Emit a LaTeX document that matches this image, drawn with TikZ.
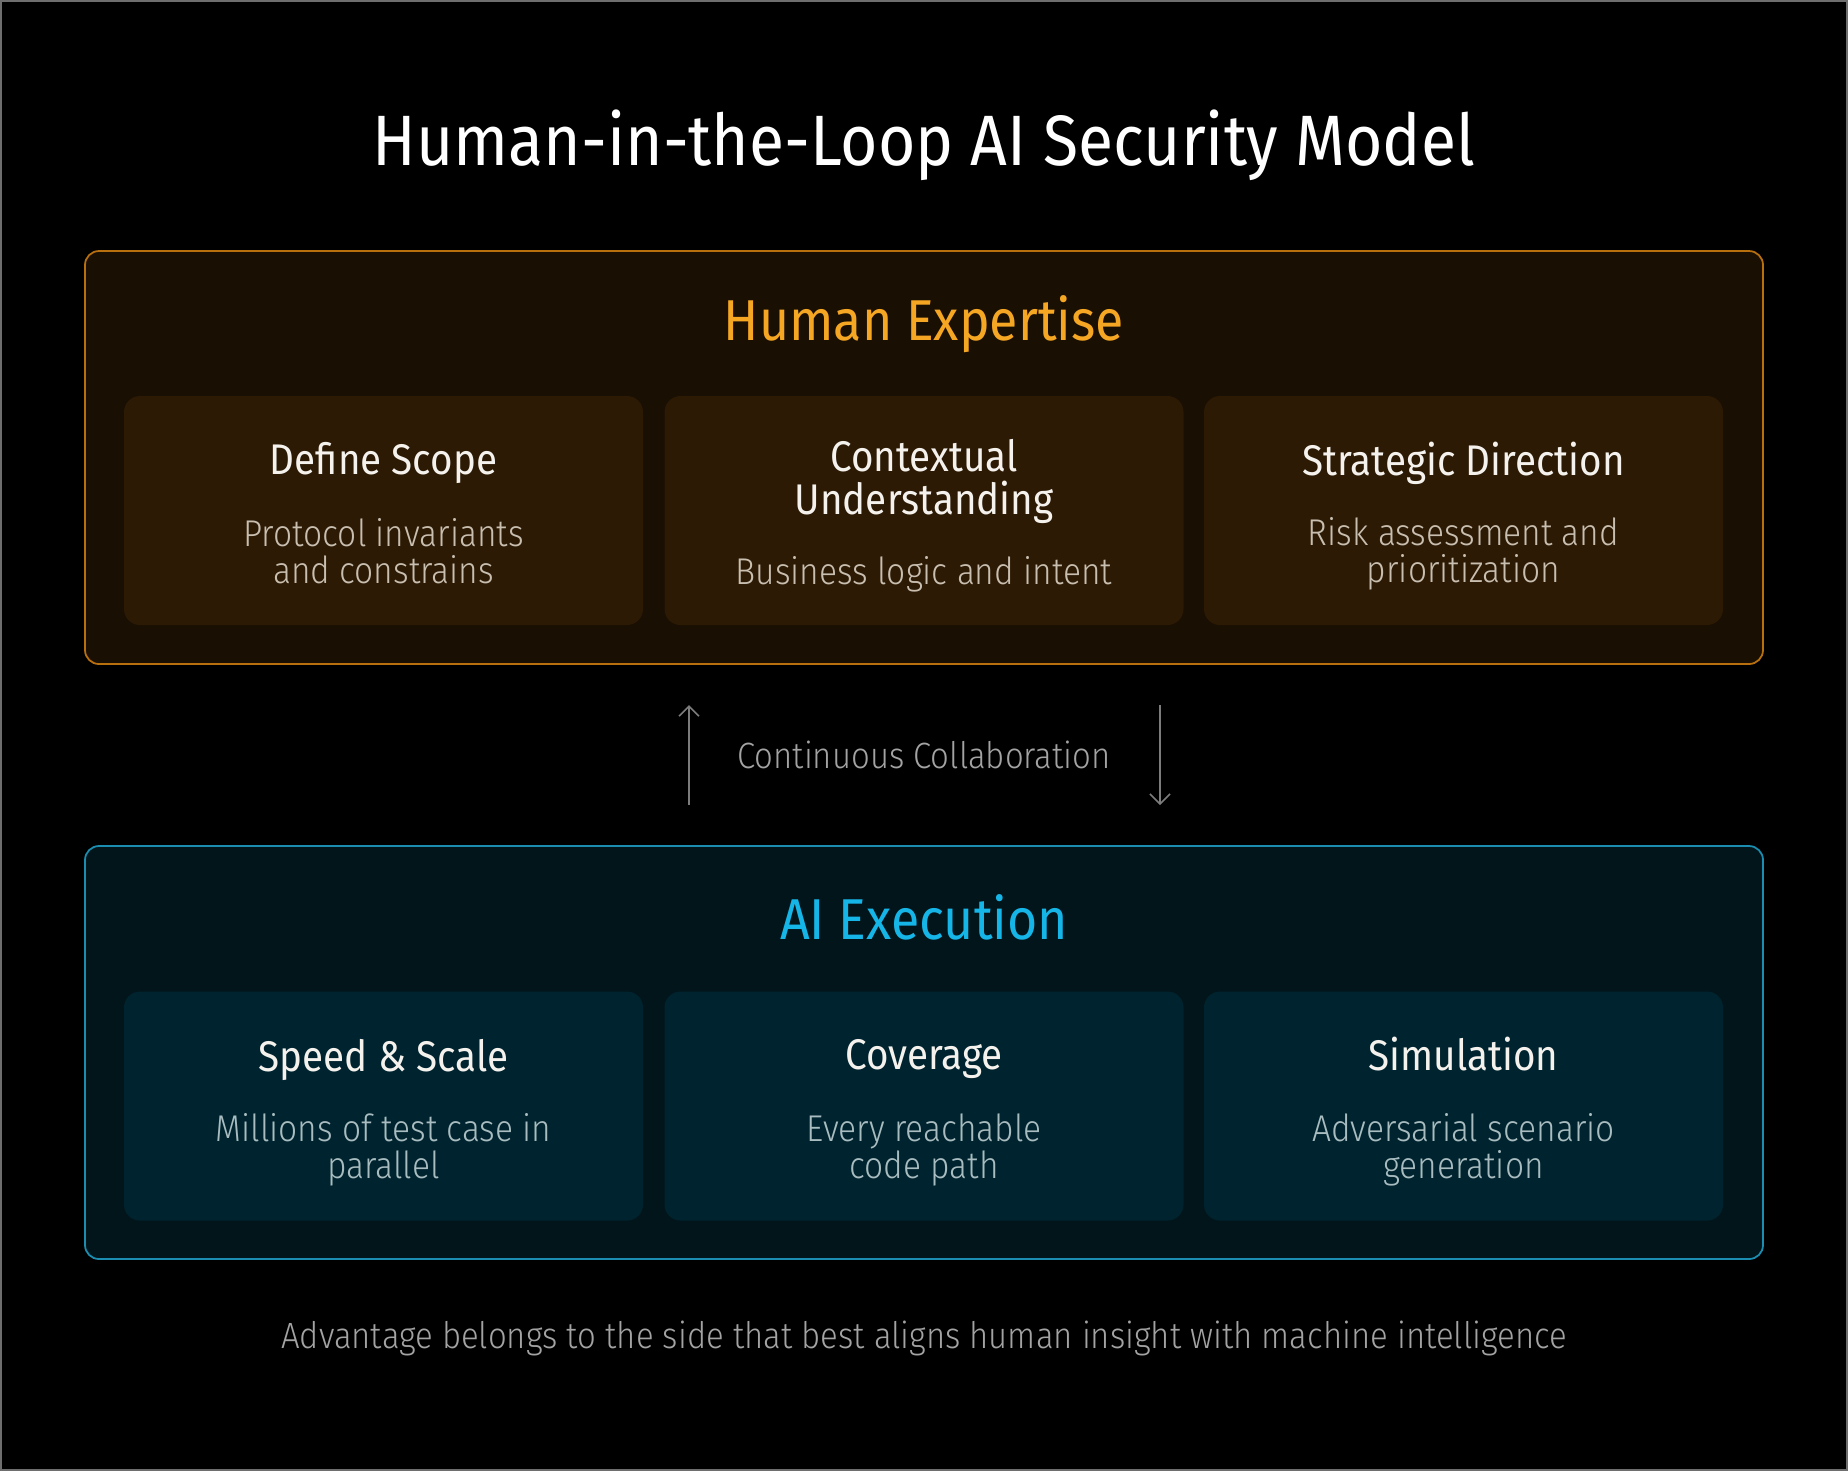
\documentclass[tikz,border=0pt]{standalone}
\usepackage{fontspec}
\setmainfont{Fira Sans}[FakeStretch=0.9]
\newfontfamily\lightfont{Fira Sans}[UprightFont=* Light,FakeStretch=0.9]
\usetikzlibrary{arrows.meta,positioning}

\definecolor{pageedge}{HTML}{6E6E6E}
\definecolor{humanedge}{HTML}{B8700F}
\definecolor{humanbg}{HTML}{1A0F03}
\definecolor{humancardbg}{HTML}{2C1A04}
\definecolor{humanhead}{HTML}{F5A623}
\definecolor{humandesc}{HTML}{C9BFB1}
\definecolor{aiedge}{HTML}{1A8DB0}
\definecolor{aibg}{HTML}{02151B}
\definecolor{aicardbg}{HTML}{00242F}
\definecolor{aihead}{HTML}{16B5E8}
\definecolor{aidesc}{HTML}{A9BCC0}
\definecolor{cardtext}{HTML}{F5F2EE}
\definecolor{softgray}{HTML}{A3A3A3}
\definecolor{arrowgray}{HTML}{7C7C7C}

\begin{document}
\begin{tikzpicture}[
  panel/.style={draw, line width=0.5pt, rounded corners=0.14cm, minimum width=16.78cm, minimum height=4.13cm},
  humanpanel/.style={panel, draw=humanedge, fill=humanbg},
  aipanel/.style={panel, draw=aiedge, fill=aibg},
  card/.style={rounded corners=0.16cm, minimum width=5.19cm, minimum height=2.29cm},
  humancard/.style={card, fill=humancardbg},
  aicard/.style={card, fill=aicardbg},
  headline/.style={font=\fontsize{20.3}{24}\selectfont, text=white},
  panelhead/.style={font=\fontsize{16.4}{19}\selectfont},
  cardtitle/.style={text=cardtext, align=center, font=\fontsize{12.2}{12}\selectfont},
  carddesc/.style={align=center, font=\lightfont\fontsize{10.6}{10.5}\selectfont},
  note/.style={text=softgray, font=\lightfont\fontsize{10.4}{12}\selectfont},
  arr/.style={-{Straight Barb[length=0.1cm, width=0.2cm]}, arrowgray, line width=0.45pt}
]
\useasboundingbox (0,0) rectangle (18.48,-14.71);
\fill[black] (0,0) rectangle (18.48,-14.71);
\draw[pageedge, line width=0.6pt] (0.01,-0.01) rectangle (18.47,-14.70);

\node[headline] (title) at (9.24,-1.45) {Human-in-the-Loop AI Security Model};

\node[humanpanel] (human) at (9.24,-4.575) {};
\node[panelhead, text=humanhead] (humantitle) at (9.24,-3.245) {Human Expertise};
\node[humancard] (scope) at (3.835,-5.105) {};
\node[humancard] (context) at (9.24,-5.105) {};
\node[humancard] (strategy) at (14.635,-5.105) {};
\node[cardtitle] (scopetitle) at (3.835,-4.63) {Define Scope};
\node[carddesc, text=humandesc] (scopedesc) at (3.835,-5.51) {Protocol invariants\\and constrains};
\node[cardtitle] (contexttitle) at (9.24,-4.815) {Contextual\\Understanding};
\node[carddesc, text=humandesc] (contextdesc) at (9.24,-5.745) {Business logic and intent};
\node[cardtitle] (strategytitle) at (14.635,-4.63) {Strategic Direction};
\node[carddesc, text=humandesc] (strategydesc) at (14.635,-5.535) {Risk assessment and\\prioritization};

\node[note] (collab) at (9.24,-7.55) {Continuous Collaboration};
\coordinate (upfoot) at (6.89,-8.05);
\coordinate (uptip) at (6.89,-7.05);
\coordinate (downfoot) at (11.60,-7.05);
\coordinate (downtip) at (11.60,-8.05);
\draw[arr] (upfoot) -- (uptip);
\draw[arr] (downfoot) -- (downtip);

\node[aipanel] (ai) at (9.24,-10.525) {};
\node[panelhead, text=aihead] (aititle) at (9.24,-9.17) {AI Execution};
\node[aicard] (speed) at (3.835,-11.06) {};
\node[aicard] (coverage) at (9.24,-11.06) {};
\node[aicard] (simulation) at (14.635,-11.06) {};
\node[cardtitle] (speedtitle) at (3.835,-10.595) {Speed \& Scale};
\node[carddesc, text=aidesc] (speeddesc) at (3.835,-11.50) {Millions of test case in\\parallel};
\node[cardtitle] (coveragetitle) at (9.24,-10.595) {Coverage};
\node[carddesc, text=aidesc] (coveragedesc) at (9.24,-11.50) {Every reachable\\code path};
\node[cardtitle] (simulationtitle) at (14.635,-10.54) {Simulation};
\node[carddesc, text=aidesc] (simulationdesc) at (14.635,-11.50) {Adversarial scenario\\generation};

\node[note] (footer) at (9.24,-13.385) {Advantage belongs to the side that best aligns human insight with machine intelligence};
\end{tikzpicture}
\end{document}
